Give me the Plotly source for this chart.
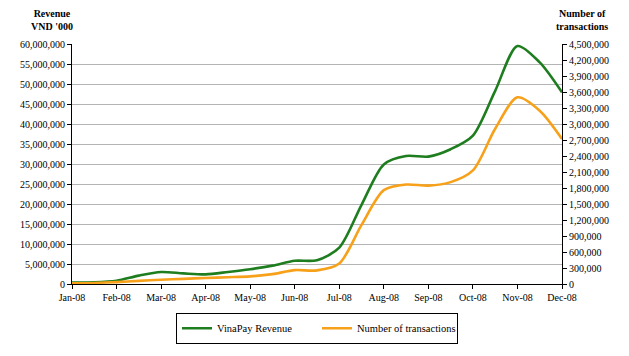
import plotly.graph_objects as go

# Semi-monthly positions (month index; 0 = Jan-08, 11 = Dec-08)
period_index = [i / 2 for i in range(23)]
month_labels = ["Jan-08", "Feb-08", "Mar-08", "Apr-08", "May-08", "Jun-08",
                "Jul-08", "Aug-08", "Sep-08", "Oct-08", "Nov-08", "Dec-08"]

# VinaPay revenue (VND '000)
revenue = [350000, 400000, 800000, 2100000, 3000000, 2650000, 2400000, 3000000,
           3700000, 4600000, 5800000, 5950000, 9100000, 19800000, 29900000,
           32000000, 31850000, 33700000, 37100000, 48300000, 59500000,
           55400000, 47900000]

# Number of transactions
transactions = [13000, 20000, 35000, 58000, 80000, 97000, 112000, 127000,
                143000, 185000, 260000, 255000, 384000, 1108000, 1760000,
                1865000, 1845000, 1910000, 2130000, 2910000, 3500000,
                3250000, 2720000]

left_ticks = list(range(0, 60000001, 5000000))
right_ticks = list(range(0, 4500001, 300000))

FONT = "Liberation Serif"

fig = go.Figure()
fig.add_trace(go.Scatter(
    x=period_index, y=revenue, name="VinaPay Revenue", mode="lines",
    line=dict(color="#1e7d1e", width=2.6, shape="spline", smoothing=0.8),
    yaxis="y", cliponaxis=False))
fig.add_trace(go.Scatter(
    x=period_index, y=transactions, name="Number of transactions", mode="lines",
    line=dict(color="#f7a11a", width=2.6, shape="spline", smoothing=0.8),
    yaxis="y2", cliponaxis=False))

fig.update_layout(
    width=621, height=348,
    margin=dict(l=64, r=67, t=36, b=69),
    paper_bgcolor="white", plot_bgcolor="white",
    font=dict(family=FONT, size=10, color="black"),
    showlegend=True,
    legend=dict(orientation="h", x=0.5, xanchor="center", y=-0.12, yanchor="top",
                bordercolor="black", borderwidth=1, bgcolor="white",
                font=dict(family=FONT, size=10.5), entrywidth=95,
                itemwidth=30, tracegroupgap=0),
    xaxis=dict(range=[0, 11], tickmode="array", tickvals=list(range(12)),
               ticktext=month_labels, showgrid=False, zeroline=False,
               showline=True, linecolor="black", linewidth=1,
               ticks="outside", ticklen=4, tickcolor="black",
               tickfont=dict(family=FONT, size=10)),
    yaxis=dict(range=[0, 60000000], tickmode="array", tickvals=left_ticks,
               tickformat=",d", showgrid=True, gridcolor="#b4b4b4", gridwidth=1,
               zeroline=False, showline=True, linecolor="black", linewidth=1,
               ticks="outside", ticklen=4, tickcolor="black",
               tickfont=dict(family=FONT, size=10)),
    yaxis2=dict(range=[0, 4500000], tickmode="array", tickvals=right_ticks,
                tickformat=",d", overlaying="y", side="right", showgrid=False,
                zeroline=False, showline=True, linecolor="black", linewidth=1,
                ticks="outside", ticklen=4, tickcolor="black",
                tickfont=dict(family=FONT, size=10)),
    annotations=[
        dict(text="<b>Revenue</b><br><b>VND '000</b>", xref="paper", yref="paper",
             x=-0.04, y=1.04, xanchor="center", yanchor="bottom", showarrow=False,
             font=dict(family=FONT, size=10)),
        dict(text="<b>Number of</b><br><b>transactions</b>", xref="paper", yref="paper",
             x=1.04, y=1.04, xanchor="center", yanchor="bottom", showarrow=False,
             font=dict(family=FONT, size=10)),
    ],
)

fig.write_html("out.html")
